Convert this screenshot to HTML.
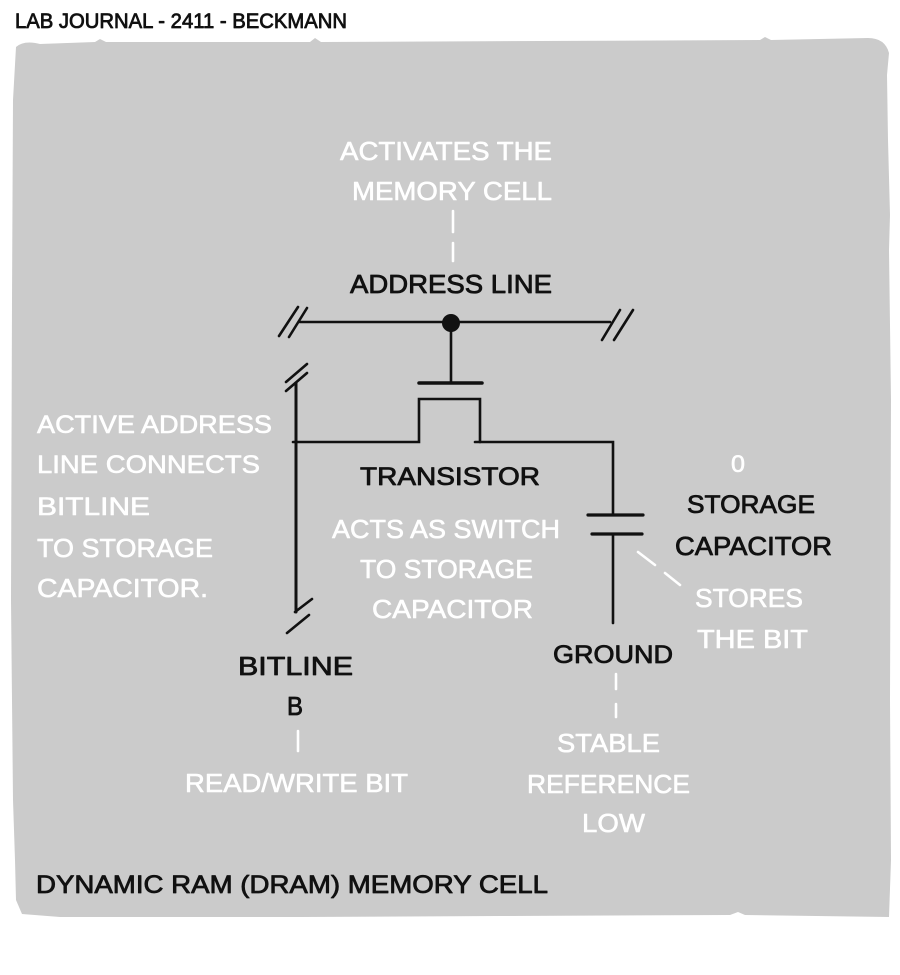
<!DOCTYPE html>
<html>
<head>
<meta charset="utf-8">
<style>
  html, body { margin:0; padding:0; background:#ffffff; }
  body { width:900px; height:975px; overflow:hidden; }
  svg { display:block; }
  text { font-family: "Liberation Sans", "DejaVu Sans", sans-serif; stroke-linejoin:round; }
  .w { fill:#ffffff; stroke:#ffffff; stroke-width:0.6; }
  .b { fill:#111111; stroke:#111111; stroke-width:0.8; }
</style>
</head>
<body>
<svg width="900" height="975" viewBox="0 0 900 975" xmlns="http://www.w3.org/2000/svg">
  <!-- panel -->
  <path d="M 16 47 Q 24 40 40 44 L 95 42 L 100 39 L 106 42 L 310 42 L 315 38 L 321 42 L 760 40 L 765 37 L 771 40 L 868 38 Q 885 38 889 53 L 887 75 L 888 140 L 890 215 L 889 250 L 891 400 L 890 700 L 891 860 L 889 917 L 745 915 L 738 912 L 730 915 L 500 916 L 300 917 L 60 917 L 22 914 L 16 900 L 15 860 L 13 800 L 11 600 L 12 300 L 13 100 Z" fill="#cbcbcb"/>

  <!-- header -->
  <text x="15" y="28" font-size="21" class="b" textLength="332" lengthAdjust="spacingAndGlyphs">LAB JOURNAL - 2411 - BECKMANN</text>

  <!-- circuit lines -->
  <g stroke="#111" stroke-width="2.6" stroke-linecap="round" fill="none">
    <!-- address line -->
    <line x1="300" y1="322" x2="610" y2="322"/>
    <line x1="279" y1="336" x2="298" y2="307"/>
    <line x1="289" y1="337" x2="307" y2="308"/>
    <line x1="602" y1="340" x2="620" y2="310"/>
    <line x1="614" y1="340" x2="633" y2="310"/>
    <!-- stem to gate -->
    <line x1="451" y1="323" x2="451" y2="383"/>
    <line x1="419" y1="383" x2="482" y2="383" stroke-width="3.5"/>
    <!-- channel -->
    <polyline points="293,442 419,442 419,399 480,399 480,442"/>
    <polyline points="475,442 613,442 613,515"/>
    <!-- capacitor -->
    <line x1="588" y1="515" x2="643" y2="515" stroke-width="3.2"/>
    <line x1="592" y1="534" x2="642" y2="534" stroke-width="3.2"/>
    <line x1="613" y1="534" x2="613" y2="623"/>
    <!-- bitline -->
    <line x1="296" y1="383" x2="296" y2="612" stroke-width="3"/>
    <line x1="286" y1="382" x2="307" y2="364"/>
    <line x1="286" y1="391" x2="307" y2="373"/>
    <line x1="295" y1="612" x2="312" y2="599"/>
    <line x1="287" y1="633" x2="309" y2="615"/>
  </g>
  <circle cx="451" cy="323" r="9" fill="#111"/>

  <!-- white connectors -->
  <g stroke="#ffffff" stroke-width="2.6" stroke-linecap="round">
    <line x1="453" y1="211" x2="453" y2="232"/>
    <line x1="453" y1="243" x2="453" y2="261"/>
    <line x1="638" y1="552" x2="655" y2="565"/>
    <line x1="665" y1="573" x2="680" y2="585"/>
    <line x1="616" y1="674" x2="616" y2="689"/>
    <line x1="616" y1="704" x2="616" y2="717"/>
    <line x1="298" y1="731" x2="298" y2="751"/>
  </g>

  <!-- top annotation -->
  <text x="340" y="160" font-size="26" class="w" textLength="212" lengthAdjust="spacingAndGlyphs">ACTIVATES THE</text>
  <text x="352" y="200" font-size="26" class="w" textLength="200" lengthAdjust="spacingAndGlyphs">MEMORY CELL</text>
  <text x="350" y="293" font-size="26" class="b" textLength="202" lengthAdjust="spacingAndGlyphs">ADDRESS LINE</text>

  <!-- transistor -->
  <text x="360" y="485" font-size="25" class="b" textLength="180" lengthAdjust="spacingAndGlyphs">TRANSISTOR</text>
  <text x="332" y="538" font-size="26" class="w" textLength="228" lengthAdjust="spacingAndGlyphs">ACTS AS SWITCH</text>
  <text x="360" y="578" font-size="26" class="w" textLength="173" lengthAdjust="spacingAndGlyphs">TO STORAGE</text>
  <text x="372" y="618" font-size="26" class="w" textLength="161" lengthAdjust="spacingAndGlyphs">CAPACITOR</text>

  <!-- capacitor labels -->
  <text x="731" y="472" font-size="24" class="w" textLength="14" lengthAdjust="spacingAndGlyphs">0</text>
  <text x="687" y="513" font-size="25" class="b" textLength="128" lengthAdjust="spacingAndGlyphs">STORAGE</text>
  <text x="675" y="555" font-size="26" class="b" textLength="157" lengthAdjust="spacingAndGlyphs">CAPACITOR</text>
  <text x="695" y="607" font-size="26" class="w" textLength="108" lengthAdjust="spacingAndGlyphs">STORES</text>
  <text x="697" y="648" font-size="26" class="w" textLength="111" lengthAdjust="spacingAndGlyphs">THE BIT</text>

  <!-- ground -->
  <text x="553" y="663" font-size="25" class="b" textLength="120" lengthAdjust="spacingAndGlyphs">GROUND</text>
  <text x="557" y="752" font-size="26" class="w" textLength="103" lengthAdjust="spacingAndGlyphs">STABLE</text>
  <text x="527" y="793" font-size="26" class="w" textLength="163" lengthAdjust="spacingAndGlyphs">REFERENCE</text>
  <text x="582" y="832" font-size="26" class="w" textLength="63" lengthAdjust="spacingAndGlyphs">LOW</text>

  <!-- left annotation -->
  <text x="37" y="433" font-size="25" class="w" textLength="235" lengthAdjust="spacingAndGlyphs">ACTIVE ADDRESS</text>
  <text x="37" y="473" font-size="25" class="w" textLength="223" lengthAdjust="spacingAndGlyphs">LINE CONNECTS</text>
  <text x="37" y="515" font-size="25" class="w" textLength="113" lengthAdjust="spacingAndGlyphs">BITLINE</text>
  <text x="37" y="557" font-size="26" class="w" textLength="176" lengthAdjust="spacingAndGlyphs">TO STORAGE</text>
  <text x="37" y="597" font-size="26" class="w" textLength="171" lengthAdjust="spacingAndGlyphs">CAPACITOR.</text>

  <!-- bitline labels -->
  <text x="238" y="675" font-size="26" class="b" textLength="115" lengthAdjust="spacingAndGlyphs">BITLINE</text>
  <text x="287" y="715" font-size="26" class="b" textLength="16" lengthAdjust="spacingAndGlyphs">B</text>
  <text x="185" y="792" font-size="26" class="w" textLength="223" lengthAdjust="spacingAndGlyphs">READ/WRITE BIT</text>

  <!-- title -->
  <text x="36" y="893" font-size="25" class="b" textLength="512" lengthAdjust="spacingAndGlyphs">DYNAMIC RAM (DRAM) MEMORY CELL</text>
</svg>
</body>
</html>
